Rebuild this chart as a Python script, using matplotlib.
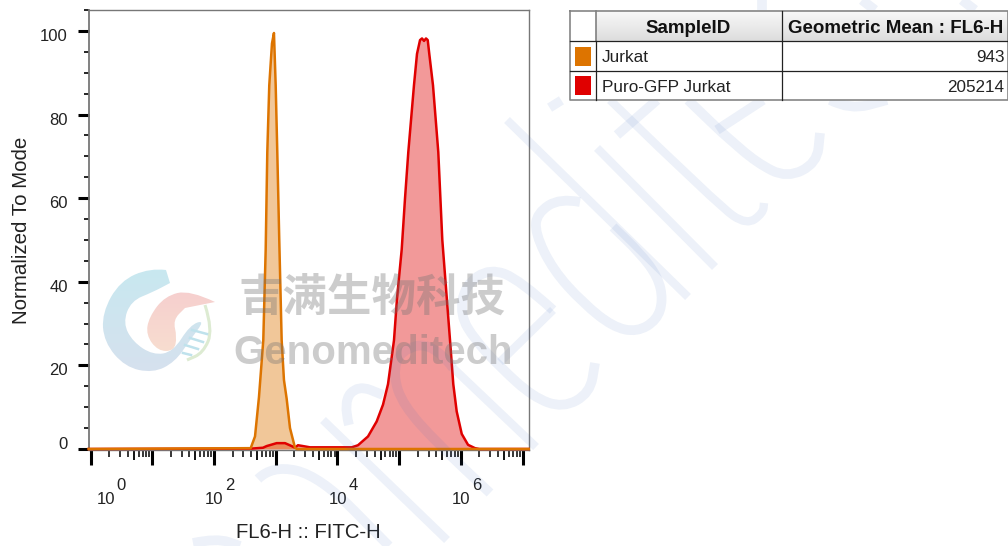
import matplotlib
matplotlib.use("Agg")
import matplotlib.pyplot as plt
import matplotlib.transforms as mtrans
from matplotlib.colors import LinearSegmentedColormap
from matplotlib.patches import PathPatch, Rectangle
from matplotlib.path import Path
from matplotlib.ticker import FixedLocator, NullFormatter
import numpy as np

plt.rcParams['font.family'] = ['Liberation Sans', 'DejaVu Sans']

# histogram traces (log10 of FL6-H, % of mode)
jurkat_log = [-0.03, 2.595, 2.665, 2.729, 2.799, 2.838, 2.864, 2.896, 2.940, 2.972, 3.000,
              3.026, 3.058, 3.097, 3.134, 3.178, 3.232, 3.313, 3.345, 7.10]
jurkat_pct = [0, 0.2, 3, 12.4, 26, 47.7, 71, 87, 97, 99.5, 87,
              71, 50, 26, 16.5, 12, 5, 0.3, 0, 0]

gfp_log = [-0.03, 2.611, 2.794, 2.854, 3.016, 3.151, 3.259, 3.313, 3.361, 3.442, 3.556,
           4.232, 4.334, 4.496, 4.637, 4.739, 4.820, 4.880, 4.917, 4.966, 5.042, 5.096,
           5.149, 5.241, 5.290, 5.339, 5.371, 5.404, 5.436, 5.464, 5.489, 5.549, 5.635,
           5.700, 5.825, 5.878, 5.933, 6.015, 6.117, 6.230, 6.30, 7.10]
gfp_pct = [0, 0.1, 0.3, 0.7, 1.4, 1.4, 0.7, 0.3, 0.9, 0.7, 0.4,
           0.4, 0.9, 3, 6.6, 10.6, 15.5, 22, 26, 36, 47.7, 60,
           71, 87, 94.5, 97.8, 98.2, 97.6, 98.2, 97.8, 94.5, 87, 71,
           50, 26, 15.5, 9, 3.6, 1, 0.2, 0, 0]

samples = ["Jurkat", "Puro-GFP Jurkat"]
geo_means = ["943", "205214"]
headers = ["SampleID", "Geometric Mean : FL6-H"]
sample_colors = ["#DD7400", "#E00000"]

y_ticks = [0, 20, 40, 60, 80, 100]
y_minor = [5, 10, 15, 25, 30, 35, 45, 50, 55, 65, 70, 75, 85, 90, 95, 105]
x_decades = [0, 1, 2, 3, 4, 5, 6, 7]
x_labelled = [0, 2, 4, 6]

fig = plt.figure(figsize=(10.08, 5.46), dpi=100)
ax = fig.add_axes([88.7 / 1008, 96 / 546, 440 / 1008, 440 / 546])

x1 = 10.0 ** np.array(jurkat_log)
x2 = 10.0 ** np.array(gfp_log)
ax.fill_between(x2, 0, gfp_pct, color=sample_colors[1], alpha=0.4, lw=0)
ax.fill_between(x1, 0, jurkat_pct, color=sample_colors[0], alpha=0.4, lw=0)
ax.plot(x2, gfp_pct, color=sample_colors[1], lw=1.8, solid_joinstyle='round', clip_on=False, zorder=3)
ax.plot(x1, jurkat_pct, color=sample_colors[0], lw=1.8, solid_joinstyle='round', clip_on=False, zorder=3)

ax.set_xscale('log')
ax.set_xlim(10 ** -0.03, 10 ** 7.10)
ax.set_ylim(-0.24, 105)

# axes look
for name, sp in ax.spines.items():
    sp.set_color('#777777')
    sp.set_linewidth(1.0)
ax.spines['left'].set_linewidth(1.3)

ax.xaxis.set_major_locator(FixedLocator([10.0 ** d for d in x_decades]))
subs = [2, 3, 4, 6, 7, 8, 9]
ax.xaxis.set_minor_locator(FixedLocator([s * 10.0 ** d for d in x_decades[:-1] for s in subs]))
ax.xaxis.set_major_formatter(NullFormatter())
ax.xaxis.set_minor_formatter(NullFormatter())
ax.tick_params(axis='x', which='major', length=10.5, width=2.2, color='black', pad=0)
ax.tick_params(axis='x', which='minor', length=5, width=1.1, color='black')

# the 5 x 10^n ticks are a bit longer than the other minor ones
ax.vlines([5 * 10.0 ** d for d in x_decades[:-1]], -9.5 / 440, 0, color='black', lw=1.3,
          transform=ax.get_xaxis_transform(), clip_on=False)

ax.set_yticks(y_ticks)
ax.set_yticks(y_minor, minor=True)
ax.set_yticklabels([str(v) for v in y_ticks], fontsize=12, color='#222222')
ax.tick_params(axis='y', which='major', length=8, width=2.2, color='black', pad=7)
ax.tick_params(axis='y', which='minor', length=3.6, width=1.2, color='black')
for val, lab in zip(y_ticks, ax.get_yticklabels()):
    dy = 6 if val == 0 else -4
    lab.set_transform(lab.get_transform() + mtrans.ScaledTranslation(0, dy / 100, fig.dpi_scale_trans))

# "10" and the raised exponent are separate pieces of text on this axis
for d in x_labelled:
    dx = 15.5 if d == 0 else 0.5
    ax.annotate("10", xy=(10.0 ** d, 0), xycoords=ax.get_xaxis_transform(),
                xytext=(dx, -50), textcoords='offset pixels', ha='center', va='center',
                fontsize=12, color='#222222')
    ax.annotate(str(d), xy=(10.0 ** d, 0), xycoords=ax.get_xaxis_transform(),
                xytext=(dx + 15, -35), textcoords='offset pixels', ha='center', va='center',
                fontsize=12, color='#222222')

fig.text(308 / 1008, 1 - 532 / 546, "FL6-H :: FITC-H", ha='center', va='center', fontsize=14.6, color='#222222')
fig.text(22 / 1008, 1 - 230 / 546, "Normalized To Mode", rotation=90, ha='center', va='center',
         fontsize=14.8, color='#222222')

# overlay in pixel coordinates for the table and the watermark
ov = fig.add_axes([0, 0, 1, 1], zorder=5)
ov.axis('off')
ov.patch.set_alpha(0)

# table, opaque so it hides the handwriting behind it
ov.add_patch(Rectangle((570, 10.5), 438, 89, color='white', lw=0, zorder=0.5))
grad = np.linspace(0.98, 0.86, 32).reshape(-1, 1)
ov.imshow(grad, extent=(596, 1008, 41, 10), cmap='gray', vmin=0, vmax=1, aspect='auto', zorder=1)
ov.plot([570, 1008, 1008, 570, 570], [10.5, 10.5, 99.5, 99.5, 10.5], color='#858585', lw=1.2, zorder=3, clip_on=False)
ov.plot([596, 596], [10.5, 41], color='#808080', lw=1.2, zorder=3)
ov.plot([596, 596], [41, 99.5], color='#222222', lw=0.9, zorder=3)
ov.plot([781.5, 781.5], [10.5, 99.5], color='#222222', lw=0.9, zorder=3)
for yy in [41, 70.5]:
    ov.plot([570, 1008], [yy, yy], color='#222222', lw=0.9, zorder=3)
ov.text(688, 28.5, headers[0], ha='center', va='center', fontsize=13.5, fontweight='bold', color='#111111', zorder=4)
ov.text(896, 28.5, headers[1], ha='center', va='center', fontsize=13.5, fontweight='bold', color='#111111', zorder=4)
for i, (name, val, col) in enumerate(zip(samples, geo_means, sample_colors)):
    cy = 56 + i * 29
    ov.add_patch(Rectangle((575, cy - 9.5), 16, 19, color=col, lw=0, zorder=4))
    ov.text(602, cy + 2, name, ha='left', va='center', fontsize=12.3, color='#222222', zorder=4)
    ov.text(1004.5, cy + 2, val, ha='right', va='center', fontsize=12.3, color='#222222', zorder=4)


def smooth_path(pts, closed=False):
    # quadratic curve through the midpoints of the given points
    pts = np.array(pts, dtype=float)
    verts = [pts[0]]
    codes = [Path.MOVETO]
    for i in range(1, len(pts) - 1):
        mid = (pts[i] + pts[i + 1]) / 2
        verts += [pts[i], mid]
        codes += [Path.CURVE3, Path.CURVE3]
    verts.append(pts[-1])
    codes.append(Path.LINETO)
    if closed:
        verts.append(pts[0])
        codes.append(Path.CLOSEPOLY)
    return Path(verts, codes)


def stroke(pts, w=6.0):
    ov.add_patch(PathPatch(smooth_path(pts), fill=False, ec=(0.22, 0.40, 0.75), alpha=0.09,
                           lw=w, capstyle='butt', joinstyle='round', zorder=0))


def gradient_patch(pts, top, bottom):
    patch = PathPatch(smooth_path(pts, closed=True), fc='none', ec='none', zorder=6)
    ov.add_patch(patch)
    cmap = LinearSegmentedColormap.from_list("logo", [top, bottom])
    xs = [p[0] for p in pts]
    ys = [p[1] for p in pts]
    im = ov.imshow(np.linspace(0, 1, 32).reshape(-1, 1), extent=(min(xs), max(xs), max(ys), min(ys)),
                   cmap=cmap, aspect='auto', zorder=6)
    im.set_clip_path(patch)


# big pale handwriting behind everything
stroke([(507, 120), (688, 297)])
stroke([(597, 148), (715, 267)])
stroke([(610, 100), (720, 207), (747, 225), (763, 213), (764, 203)])
stroke([(617, 135), (657, 100)], w=7)
stroke([(580, 202), (560, 198), (537, 213), (535, 233), (553, 270), (583, 303), (613, 327), (637, 332),
        (657, 320), (663, 300), (658, 277), (640, 253), (613, 227)], w=7)
stroke([(688, 100), (717, 128), (727, 137), (757, 163), (787, 178), (817, 163), (820, 133)], w=7)
stroke([(717, 130), (763, 100)], w=7)
stroke([(830, 100), (850, 110), (887, 100)], w=7)
stroke([(762, 0), (762, 10)], w=7)
stroke([(862, 0), (875, 10)], w=7)
stroke([(962, 0), (975, 10)], w=7)
stroke([(553, 100), (558, 108)], w=10)
stroke([(553, 310), (520, 280), (490, 268), (465, 285), (460, 315), (475, 340), (500, 367), (533, 397),
        (563, 408), (590, 393), (595, 363)], w=7)
stroke([(553, 310), (500, 362)])
stroke([(453, 368), (536, 447)])
stroke([(453, 368), (433, 342), (400, 350), (393, 375), (403, 405), (437, 443), (490, 493)], w=7)
stroke([(323, 420), (447, 540)])
stroke([(349, 425), (343, 402), (358, 385), (383, 395)], w=7)
stroke([(258, 479), (272, 465), (320, 476), (389, 546)], w=7)
stroke([(193, 543), (217, 538), (240, 546)], w=7)

# logo
crescent = [(166, 270), (150, 268), (120, 281), (102, 313), (104, 342), (125, 367), (153, 373), (175, 362),
            (190, 340), (205, 320), (190, 325), (173, 352), (153, 355), (133, 342), (123, 323), (131, 301),
            (153, 292), (170, 283)]
pink = [(215, 302), (190, 290), (165, 296), (149, 317), (146, 335), (158, 351), (174, 351), (177, 337),
        (173, 320), (185, 308)]
gradient_patch(crescent, '#C8E8F0', '#D6E1EE')
gradient_patch(pink, '#F6CFCE', '#F8DDD0')
ov.add_patch(PathPatch(smooth_path([(205, 305), (213, 330), (203, 353), (187, 360)]), fill=False,
                       ec='#DDEBD2', lw=2.2, zorder=6))
for seg in [((192, 330), (207, 334)), ((190, 338), (203, 342)), ((185, 345), (198, 349)), ((183, 353), (191, 355))]:
    ov.plot([seg[0][0], seg[1][0]], [seg[0][1], seg[1][1]], color='#BFE2EC', lw=1.8, zorder=6)

# watermark lettering, semi transparent so the curves show through
ov.text(372, 297.5, "吉满生物科技", ha='center', va='center', fontsize=32,
        family=['Noto Sans CJK SC', 'DejaVu Sans'], fontweight='bold', color=(0.45, 0.45, 0.45), alpha=0.36, zorder=7)
ov.text(373, 353.5, "Genomeditech", ha='center', va='center', fontsize=29, fontweight='bold',
        color=(0.45, 0.45, 0.45), alpha=0.36, zorder=7)

ov.set_xlim(0, 1008)
ov.set_ylim(546, 0)

fig.savefig("out.png", dpi=100)
